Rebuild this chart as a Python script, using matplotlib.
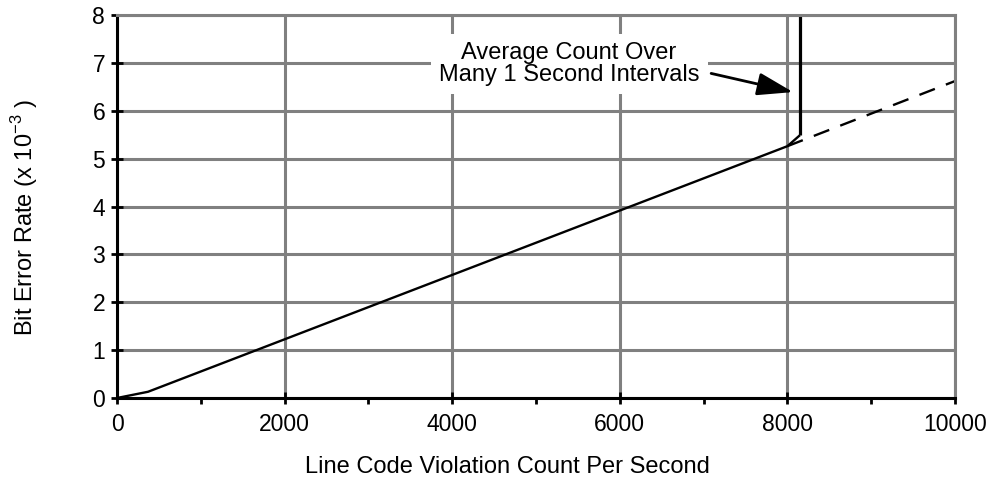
import matplotlib.pyplot as plt
from matplotlib.ticker import MultipleLocator

plt.rcParams['font.family'] = ['Liberation Sans', 'DejaVu Sans']
plt.rcParams['mathtext.fontset'] = 'custom'
plt.rcParams['mathtext.rm'] = 'Liberation Sans'

# measured curve: LCV count/s vs bit error rate (x 1e-3)
curve_x = [0, 370, 8000, 8150]
curve_y = [0, 0.13, 5.26, 5.49]
# vertical jump for the averaged count
jump_x = [8150, 8150]
jump_y = [5.49, 8.0]
# extrapolated part
dash_x = [8000, 10000]
dash_y = [5.26, 6.62]

x_ticks = [0, 2000, 4000, 6000, 8000, 10000]
y_ticks = [0, 1, 2, 3, 4, 5, 6, 7, 8]

fig = plt.figure(figsize=(9.98, 4.78), dpi=100)
ax = fig.add_axes([117 / 998, 80 / 478, 838 / 998, 383 / 478])

grid_col = '#808080'
ax.grid(True, color=grid_col, linewidth=2.2)
ax.set_axisbelow(True)

ax.plot(curve_x, curve_y, color='black', linewidth=1.7, solid_capstyle='butt')
ax.plot(jump_x, jump_y, color='black', linewidth=2.3, solid_capstyle='butt')
ax.plot(dash_x, dash_y, color='black', linewidth=1.7, linestyle=(0, (7, 5)))

ax.set_xlim(0, 10000)
ax.set_ylim(0, 8)
ax.set_xticks(x_ticks)
ax.set_yticks(y_ticks)
ax.xaxis.set_minor_locator(MultipleLocator(1000))

for side in ['left', 'bottom']:
    ax.spines[side].set_linewidth(2.2)
    ax.spines[side].set_color('black')
for side in ['top', 'right']:
    ax.spines[side].set_linewidth(2.2)
    ax.spines[side].set_color(grid_col)

ax.tick_params(axis='both', which='major', direction='inout', length=9, width=2,
               labelsize=16.5, colors='black')
ax.tick_params(axis='x', which='major', pad=6)
ax.tick_params(axis='y', which='major', pad=4)
ax.tick_params(axis='x', which='minor', direction='out', length=4.5, width=2)
ax.tick_params(axis='y', which='minor', length=0)

fig.text(507 / 998, 1 - 467 / 478, 'Line Code Violation Count Per Second',
         ha='center', va='center', fontsize=17)
fig.text(25 / 998, 1 - 217 / 478, r'Bit Error Rate (x 10$^{\mathregular{-3}}$ )',
         ha='center', va='center', rotation=90, fontsize=17)

ax.text(5394, 6.98, 'Average Count Over\nMany 1 Second Intervals',
        ha='center', va='center', fontsize=17, linespacing=1.0,
        bbox=dict(facecolor='white', edgecolor='none', pad=6))
ax.annotate('', xy=(8067, 6.39), xytext=(7090, 6.78),
            arrowprops=dict(arrowstyle='-|>,head_length=1.1,head_width=0.35',
                            mutation_scale=20, color='black', linewidth=2,
                            shrinkA=0, shrinkB=0))

fig.savefig('out.png', dpi=100)
